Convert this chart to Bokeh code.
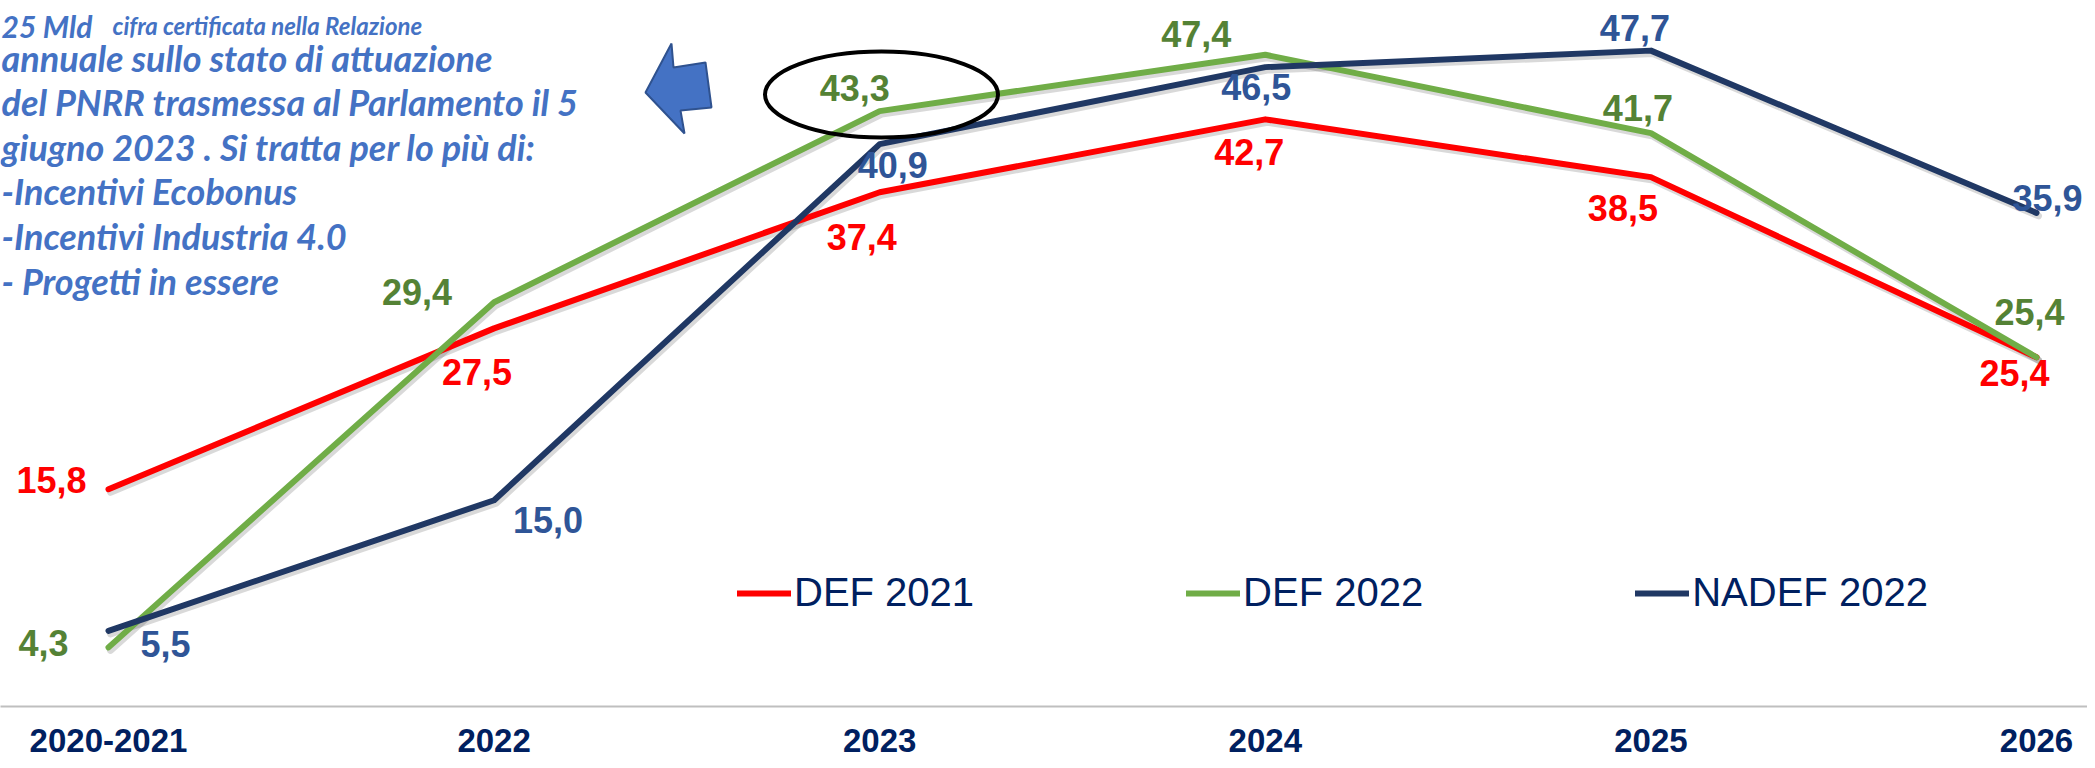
from bokeh.plotting import figure
from bokeh.models import ColumnDataSource, FixedTicker, Legend, LegendItem
from bokeh.core.properties import value
from bokeh.embed import file_html
from bokeh.resources import INLINE

# ---------------- data ----------------
categories = ["2020-2021", "2022", "2023", "2024", "2025", "2026"]
def_2021 = [15.8, 27.5, 37.4, 42.7, 38.5, 25.4]
def_2022 = [4.3, 29.4, 43.3, 47.4, 41.7, 25.4]
nadef_2022 = [5.5, 15.0, 40.9, 46.5, 47.7, 35.9]
series_names = ["DEF 2021", "DEF 2022", "NADEF 2022"]

note_head_big = "25 Mld"
note_head = "cifra certificata nella Relazione"
note_lines = [
    "annuale sullo stato di attuazione",
    "del PNRR trasmessa  al Parlamento il 5",
    "giugno 2023 . Si tratta per lo più di:",
    "-Incentivi Ecobonus",
    "-Incentivi Industria 4.0",
    "- Progetti in essere",
]

# ---------------- layout / style ----------------
FIG_W, FIG_H = 2087, 760
FRAME_H = 706
PX_PER_X = 385.6
PX_PER_Y = 13.75
X_START = -108 / PX_PER_X
X_END = X_START + FIG_W / PX_PER_X
Y_START = 0.0
Y_END = FRAME_H / PX_PER_Y

line_colors = ["#FF0000", "#70AD47", "#203864"]
label_colors = ["#FF0000", "#548235", "#2F5597"]
# label offsets (screen px) from each point: (dx, dy) ; dy positive = down
label_dx = [
    [-57, -17, -18, -16, -28, -22],
    [-65, -77, -25, -69, -13, -7],
    [57, 54, 13, -9, -16, 11],
]
label_dy = [
    [-9, 44, 45, 33, 31, 16],
    [-4, -10, -23, -21, -25, -45],
    [13, 20, 21, 20, -23, -15],
]


def px_to_x(px):
    return X_START + px / PX_PER_X


def py_to_y(py):
    return Y_END - py / PX_PER_Y


p = figure(
    width=FIG_W, height=FIG_H,
    x_range=(X_START, X_END), y_range=(Y_START, Y_END),
    output_backend="svg", toolbar_location=None,
    y_axis_location=None,
    min_border_left=0, min_border_right=0, min_border_top=0,
    min_border_bottom=FIG_H - FRAME_H,
)
p.outline_line_color = None
p.xgrid.visible = False
p.ygrid.visible = False
p.background_fill_color = "white"
p.border_fill_color = "white"

xs = list(range(len(categories)))
p.xaxis.ticker = FixedTicker(ticks=xs)
p.xaxis.major_label_overrides = {i: c for i, c in zip(xs, categories)}
p.xaxis.major_tick_out = 0
p.xaxis.major_tick_in = 0
p.xaxis.minor_tick_out = 0
p.xaxis.minor_tick_in = 0
p.xaxis.axis_line_color = "#BFBFBF"
p.xaxis.axis_line_width = 2
p.xaxis.major_label_standoff = 22
p.xaxis.major_label_text_font = "Liberation Sans"
p.xaxis.major_label_text_font_style = "bold"
p.xaxis.major_label_text_font_size = "33px"
p.xaxis.major_label_text_color = "#002060"

# ---------------- annotation text (top left) ----------------
NOTE_COLOR = "#4472C4"
p.text(x=[px_to_x(1)], y=[py_to_y(25)], text=[note_head_big],
       text_font=value("Lato"), text_font_style="bold italic", text_font_size="30px",
       text_color=NOTE_COLOR, text_align="left", text_baseline="alphabetic")
p.text(x=[px_to_x(112)], y=[py_to_y(25)], text=[note_head],
       text_font=value("Lato"), text_font_style="bold italic", text_font_size="24px",
       text_color=NOTE_COLOR, text_align="left", text_baseline="alphabetic")
baselines = [57, 101, 146, 190, 235, 280]
p.text(x=[px_to_x(1)] * len(note_lines), y=[py_to_y(b) for b in baselines], text=note_lines,
       text_font=value("Lato"), text_font_style="bold italic", text_font_size="36px",
       text_color=NOTE_COLOR, text_align="left", text_baseline="alphabetic")

# block arrow pointing left
arrow_px = [(645, 92), (671, 43), (673, 67), (705, 62), (711, 107), (680, 110), (684, 133)]
p.patch(x=[px_to_x(a) for a, b in arrow_px], y=[py_to_y(b) for a, b in arrow_px],
        fill_color="#4472C4", line_color="#2F528F", line_width=2)

# ---------------- series ----------------
renderers = []
shadow_dx = 2 / PX_PER_X
shadow_dy = 3 / PX_PER_Y
for vals in (def_2021, def_2022, nadef_2022):
    p.line(x=[x + shadow_dx for x in xs], y=[v - shadow_dy for v in vals],
           line_color="black", line_alpha=0.15, line_width=7,
           line_join="round", line_cap="round")

for vals, col in zip((def_2021, def_2022, nadef_2022), line_colors):
    r = p.line(x=xs, y=vals, line_color=col, line_width=6,
               line_join="round", line_cap="round")
    renderers.append(r)

# highlight ellipse around the 2023 DEF 2022 value
p.ellipse(x=[px_to_x(881)], y=[py_to_y(94)], width=233, height=86,
          width_units="screen", height_units="screen",
          fill_color=None, line_color="black", line_width=4)

for vals, col, dxs, dys in zip((def_2021, def_2022, nadef_2022), label_colors, label_dx, label_dy):
    src = ColumnDataSource(dict(
        x=xs, y=vals,
        label=[f"{v:.1f}".replace(".", ",") for v in vals],
        dx=dxs, dy=dys,
    ))
    p.text(x="x", y="y", text="label", x_offset="dx", y_offset="dy", source=src,
           text_font=value("Liberation Sans"), text_font_style="bold",
           text_font_size="36px", text_color=col,
           text_align="center", text_baseline="middle")

legend = Legend(
    items=[LegendItem(label=n, renderers=[r]) for n, r in zip(series_names, renderers)],
    location=(737, 91), orientation="horizontal",
    spacing=212, glyph_width=54, glyph_height=40, label_standoff=3,
    padding=0, margin=0,
    border_line_alpha=0, background_fill_alpha=0,
    label_text_font="Liberation Sans", label_text_font_size="40px",
    label_text_color="#002060",
)
p.add_layout(legend)

open("out.html", "w").write(file_html(p, INLINE))
